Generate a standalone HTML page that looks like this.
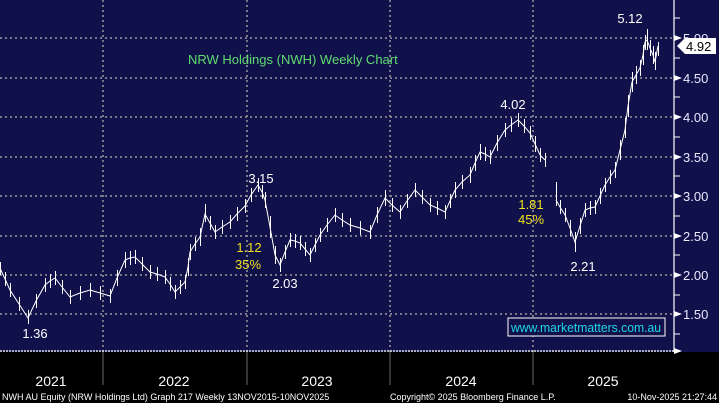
<!DOCTYPE html>
<html><head><meta charset="utf-8"><style>
html,body{margin:0;padding:0;background:#000;}
svg{display:block;font-family:"Liberation Sans",sans-serif;}
</style></head><body>
<svg width="719" height="403" xmlns="http://www.w3.org/2000/svg">
<rect x="0" y="0" width="719" height="403" fill="#000"/>
<rect x="0" y="0" width="719" height="352" fill="#10104a"/>
<g stroke="#9a9a9a" stroke-width="1.5" stroke-dasharray="2,3">
<line x1="0" y1="38" x2="674" y2="38"/><line x1="0" y1="78" x2="674" y2="78"/>
<line x1="0" y1="117" x2="674" y2="117"/><line x1="0" y1="157" x2="674" y2="157"/>
<line x1="0" y1="196" x2="674" y2="196"/><line x1="0" y1="236" x2="674" y2="236"/>
<line x1="0" y1="275" x2="674" y2="275"/><line x1="0" y1="314" x2="674" y2="314"/>
<line x1="103" y1="0" x2="103" y2="352"/><line x1="247" y1="0" x2="247" y2="352"/>
<line x1="390" y1="0" x2="390" y2="352"/><line x1="533" y1="0" x2="533" y2="352"/>
</g>
<line x1="0" y1="351" x2="676" y2="351" stroke="#ddd" stroke-width="1.5" stroke-dasharray="2,1"/>
<line x1="674" y1="0" x2="674" y2="352" stroke="#fff" stroke-width="1.2"/>
<g stroke="#fff" stroke-width="1">
<line x1="674" y1="18" x2="680" y2="18"/><line x1="674" y1="58" x2="680" y2="58"/>
<line x1="674" y1="97" x2="680" y2="97"/><line x1="674" y1="137" x2="680" y2="137"/>
<line x1="674" y1="176" x2="680" y2="176"/><line x1="674" y1="216" x2="680" y2="216"/>
<line x1="674" y1="255" x2="680" y2="255"/><line x1="674" y1="295" x2="680" y2="295"/>
<line x1="674" y1="334" x2="680" y2="334"/>
</g>
<g fill="#fff"><polygon points="674,35 682,38 674,41"/><polygon points="674,75 682,78 674,81"/><polygon points="674,114 682,117 674,120"/><polygon points="674,154 682,157 674,160"/><polygon points="674,193 682,196 674,199"/><polygon points="674,233 682,236 674,239"/><polygon points="674,272 682,275 674,278"/><polygon points="674,311 682,314 674,317"/><polygon points="674,348 682,351 674,354"/></g>
<g fill="#e8e8ff" font-size="13">
<text x="683" y="43">5.00</text><text x="683" y="83">4.50</text><text x="683" y="122">4.00</text>
<text x="683" y="162">3.50</text><text x="683" y="201">3.00</text><text x="683" y="241">2.50</text>
<text x="683" y="280">2.00</text><text x="683" y="319">1.50</text>
</g>
<polygon points="677,46 685,38 716,38 716,54 685,54" fill="#fff"/>
<text x="686" y="51" font-size="13" fill="#000">4.92</text>
<g stroke="#666" stroke-width="1"><line x1="103" y1="352" x2="103" y2="385"/><line x1="247" y1="352" x2="247" y2="385"/><line x1="390" y1="352" x2="390" y2="385"/><line x1="533" y1="352" x2="533" y2="385"/></g>
<g fill="#fff" font-size="14" text-anchor="middle">
<text x="51" y="386">2021</text><text x="174" y="386">2022</text><text x="317" y="386">2023</text><text x="461" y="386">2024</text><text x="603" y="386">2025</text>
</g>
<g fill="#fff" font-size="9">
<text x="2" y="400">NWH AU Equity (NRW Holdings Ltd) Graph 217 Weekly 13NOV2015-10NOV2025</text>
<text x="390" y="400">Copyright© 2025 Bloomberg Finance L.P.</text>
<text x="717" y="400" text-anchor="end">10-Nov-2025 21:27:44</text>
</g>
<polyline fill="none" stroke="#fff" stroke-width="1" points="0,268 5,279 10,290 19,304 28,318 36,301 45,285 50,281 55,278 62,287 70,297 80,293 90,290 100,293 110,296 117,278 125,260 130,258 135,257 142,264 150,272 157,274 165,277 170,284 175,292 180,287 185,282 188,267 190,252 195,244 200,237 205,214 210,223 215,232 222,227 230,222 237,214 245,206 251,195 258,185 262,192 265,200 270,227 275,255 280,265 285,252 290,240 295,241 300,243 305,249 310,255 315,245 320,235 327,225 335,215 342,220 350,225 360,228 370,232 377,215 385,198 392,205 400,212 407,201 415,190 422,197 430,205 437,208 445,212 450,201 455,190 462,182 470,175 475,163 480,152 485,154 490,157 497,143 505,130 511,125 518,120 524,126 530,133 535,144 540,155 545,160"/>
<polyline fill="none" stroke="#fff" stroke-width="1" points="556,200 560,207 565,215 570,228 575,242 580,226 585,210 590,208 595,207 600,196 605,185 610,177 615,170 620,150 625,130 628,106 632,82 636,75 640,68 643,55 645,42 647,40 650,48 653,55 655,62 658,46"/>
<path fill="none" stroke="#fff" stroke-width="1" d="M0.5 262V275M5.5 272V286M10.5 283V297M19.5 297V311M28.5 310V324M36.5 294V308M45.5 278V292M50.5 274V288M55.5 271V285M62.5 280V294M70.5 290V304M80.5 286V300M90.5 283V297M100.5 286V300M110.5 289V303M117.5 270V286M125.5 252V268M130.5 251V265M135.5 250V264M142.5 257V271M150.5 265V279M157.5 267V281M165.5 270V284M170.5 277V291M175.5 285V299M180.5 280V294M185.5 275V289M188.5 258V276M190.5 244V260M195.5 237V251M200.5 228V246M205.5 204V222M210.5 216V230M215.5 225V239M222.5 220V234M230.5 215V229M237.5 207V221M245.5 199V213M251.5 188V202M258.5 178V192M262.5 185V199M265.5 192V208M270.5 216V238M275.5 246V264M280.5 258V272M285.5 245V259M290.5 233V247M295.5 234V248M300.5 236V250M305.5 242V256M310.5 248V262M315.5 238V252M320.5 228V242M327.5 218V232M335.5 208V222M342.5 213V227M350.5 218V232M360.5 221V235M370.5 225V239M377.5 207V223M385.5 190V206M392.5 198V212M400.5 205V219M407.5 194V208M415.5 183V197M422.5 190V204M430.5 198V212M437.5 201V215M445.5 205V219M450.5 194V208M455.5 182V198M462.5 175V189M470.5 167V183M475.5 155V171M480.5 144V160M485.5 147V161M490.5 150V164M497.5 135V151M505.5 123V137M511.5 118V132M518.5 113V127M524.5 119V133M530.5 126V140M535.5 136V152M540.5 148V162M545.5 153V167M556.5 182V206M560.5 200V214M565.5 208V222M570.5 220V236M575.5 232V252M580.5 218V234M585.5 203V217M590.5 201V215M595.5 200V214M600.5 188V204M605.5 178V192M610.5 170V184M615.5 162V178M620.5 140V160M625.5 118V138M628.5 95V117M632.5 72V92M636.5 66V84M640.5 60V76M643.5 45V65M645.5 35V50M647.5 29V50M650.5 40V56M653.5 46V64M655.5 52V70M658.5 42V56"/>
<text x="188" y="64" font-size="13" fill="#5fdc6f">NRW Holdings (NWH) Weekly Chart</text>
<g fill="#fff" font-size="13" text-anchor="middle">
<text x="630" y="23">5.12</text><text x="513" y="109">4.02</text><text x="261" y="183">3.15</text>
<text x="285" y="288">2.03</text><text x="35" y="338">1.36</text><text x="583" y="271">2.21</text>
</g>
<g fill="#f0e020" font-size="13" text-anchor="middle">
<text x="249" y="252">1.12</text><text x="248" y="269">35%</text>
<text x="531" y="209">1.81</text><text x="531" y="224">45%</text>
</g>
<rect x="508" y="318" width="157" height="18" fill="#10104a" stroke="#fff" stroke-width="1"/>
<text x="586" y="332" font-size="13" fill="#20d8e8" text-anchor="middle" textLength="150" lengthAdjust="spacingAndGlyphs">www.marketmatters.com.au</text>
</svg>
</body></html>
